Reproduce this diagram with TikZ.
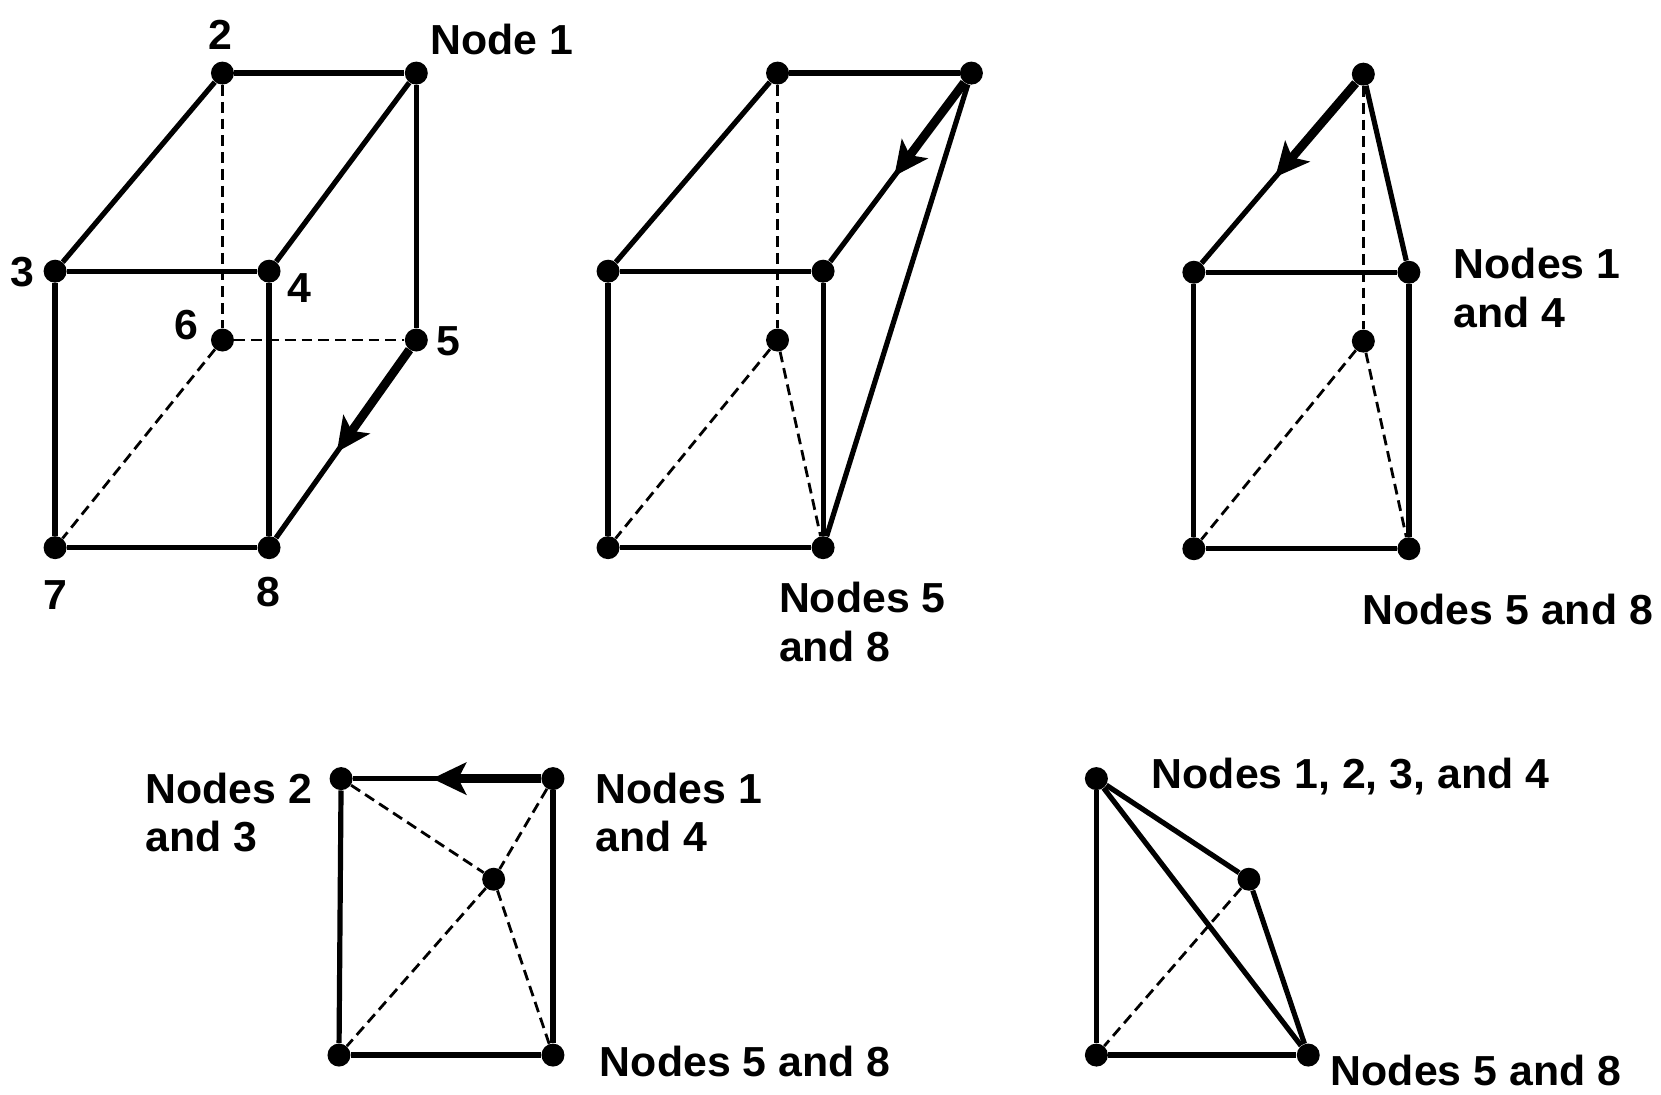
\documentclass[tikz,border=0pt]{standalone}
\usepackage{fontspec}
\usetikzlibrary{arrows.meta,calc}
\newfontfamily\labelfont[FakeStretch=1.02]{Liberation Sans Bold}
\tikzset{
	dot/.style={circle,fill=black,inner sep=0pt,minimum size=11.5pt},
	edge/.style={line width=2.6pt},
	hidden/.style={line width=1.4pt,dash pattern=on 5.4pt off 3pt},
	heavy/.style={line width=4.4pt,-{Stealth[length=17pt,width=16pt,inset=4pt]}},
	lbl/.style={inner sep=0pt,align=left,font=\labelfont\fontsize{21}{24.2}\selectfont},
}
\begin{document}
\begin{tikzpicture}[x=0.53pt,y=-0.53pt]
	\useasboundingbox (0,0) rectangle (1568,1033);

	% Brick with all eight nodes
	\node[dot] (a1) at (393,69) {};
	\node[dot] (a2) at (210,69) {};
	\node[dot] (a3) at (52,256) {};
	\node[dot] (a4) at (254,256) {};
	\node[dot] (a5) at (393,321) {};
	\node[dot] (a6) at (210,321) {};
	\node[dot] (a7) at (52,517) {};
	\node[dot] (a8) at (254,517) {};
	\draw[edge] (a2) -- (a1);
	\draw[edge] (a2) -- (a3);
	\draw[edge] (a1) -- (a4);
	\draw[edge] (a1) -- (a5);
	\draw[edge] (a3) -- (a4);
	\draw[edge] (a3) -- (a7);
	\draw[edge] (a4) -- (a8);
	\draw[edge] (a7) -- (a8);
	\draw[edge] (a5) -- (a8);
	\draw[hidden] (a2) -- (a6);
	\draw[hidden] (a6) -- (a5);
	\draw[hidden] (a6) -- (a7);
	\coordinate (atip) at ($(a5)!0.54!(a8)$);
	\draw[heavy] (a5) -- (atip);
	\node[lbl] (la1) at (474,37) {Node 1};
	\node[lbl] (la2) at (208,33) {2};
	\node[lbl] (la3) at (21,257) {3};
	\node[lbl] (la4) at (283,272) {4};
	\node[lbl] (la5) at (423,322) {5};
	\node[lbl] (la6) at (176,307) {6};
	\node[lbl] (la7) at (52,562) {7};
	\node[lbl] (la8) at (253,559) {8};

	% Nodes 5 and 8 merged
	\node[dot] (b1) at (917,69) {};
	\node[dot] (b2) at (734,69) {};
	\node[dot] (b3) at (574,256) {};
	\node[dot] (b4) at (777,256) {};
	\node[dot] (b6) at (734,321) {};
	\node[dot] (b7) at (574,517) {};
	\node[dot] (b8) at (777,517) {};
	\draw[edge] (b2) -- (b1);
	\draw[edge] (b2) -- (b3);
	\draw[edge] (b1) -- (b4);
	\draw[edge] (b1) -- (b8);
	\draw[edge] (b3) -- (b4);
	\draw[edge] (b3) -- (b7);
	\draw[edge] (b4) -- (b8);
	\draw[edge] (b7) -- (b8);
	\draw[hidden] (b2) -- (b6);
	\draw[hidden] (b6) -- (b7);
	\draw[hidden] (b6) -- (b8);
	\coordinate (btip) at ($(b1)!0.52!(b4)$);
	\draw[heavy] (b1) -- (btip);
	\node[lbl,anchor=west] (lb8) at (735,587) {Nodes 5\\and 8};

	% Nodes 1 and 4 merged as well
	\node[dot] (c1) at (1287,70) {};
	\node[dot] (c3) at (1127,257) {};
	\node[dot] (c4) at (1330,257) {};
	\node[dot] (c6) at (1287,322) {};
	\node[dot] (c7) at (1127,518) {};
	\node[dot] (c8) at (1330,518) {};
	\draw[edge] (c1) -- (c3);
	\draw[edge] (c1) -- (c4);
	\draw[edge] (c3) -- (c4);
	\draw[edge] (c3) -- (c7);
	\draw[edge] (c4) -- (c8);
	\draw[edge] (c7) -- (c8);
	\draw[hidden] (c1) -- (c6);
	\draw[hidden] (c6) -- (c7);
	\draw[hidden] (c6) -- (c8);
	\coordinate (ctip) at ($(c1)!0.52!(c3)$);
	\draw[heavy] (c1) -- (ctip);
	\node[lbl,anchor=west] (lc4) at (1372,272) {Nodes 1\\and 4};
	\node[lbl,anchor=west] (lc8) at (1286,575) {Nodes 5 and 8};

	% Nodes 2 and 3 merged
	\node[dot] (d2) at (322,735) {};
	\node[dot] (d1) at (522,735) {};
	\node[dot] (d6) at (466,830) {};
	\node[dot] (d7) at (320,996) {};
	\node[dot] (d8) at (522,996) {};
	\draw[edge] (d1) -- (d2);
	\draw[edge] (d2) -- (d7);
	\draw[edge] (d1) -- (d8);
	\draw[edge] (d7) -- (d8);
	\draw[hidden] (d2) -- (d6);
	\draw[hidden] (d1) -- (d6);
	\draw[hidden] (d6) -- (d7);
	\draw[hidden] (d6) -- (d8);
	\coordinate (dtip) at ($(d1)!0.57!(d2)$);
	\draw[heavy] (d1) -- (dtip);
	\node[lbl,anchor=west] (ld2) at (137,767) {Nodes 2\\and 3};
	\node[lbl,anchor=west] (ld1) at (562,767) {Nodes 1\\and 4};
	\node[lbl,anchor=west] (ld8) at (566,1002) {Nodes 5 and 8};

	% Tetrahedron
	\node[dot] (e1) at (1035,735) {};
	\node[dot] (e6) at (1179,830) {};
	\node[dot] (e7) at (1035,996) {};
	\node[dot] (e8) at (1235,996) {};
	\draw[edge] (e1) -- (e6);
	\draw[edge] (e1) -- (e7);
	\draw[edge] (e1) -- (e8);
	\draw[edge] (e6) -- (e8);
	\draw[edge] (e7) -- (e8);
	\draw[hidden] (e6) -- (e7);
	\node[lbl,anchor=west] (le1) at (1087,733) {Nodes 1, 2, 3, and 4};
	\node[lbl,anchor=west] (le8) at (1256,1011) {Nodes 5 and 8};
\end{tikzpicture}
\end{document}
